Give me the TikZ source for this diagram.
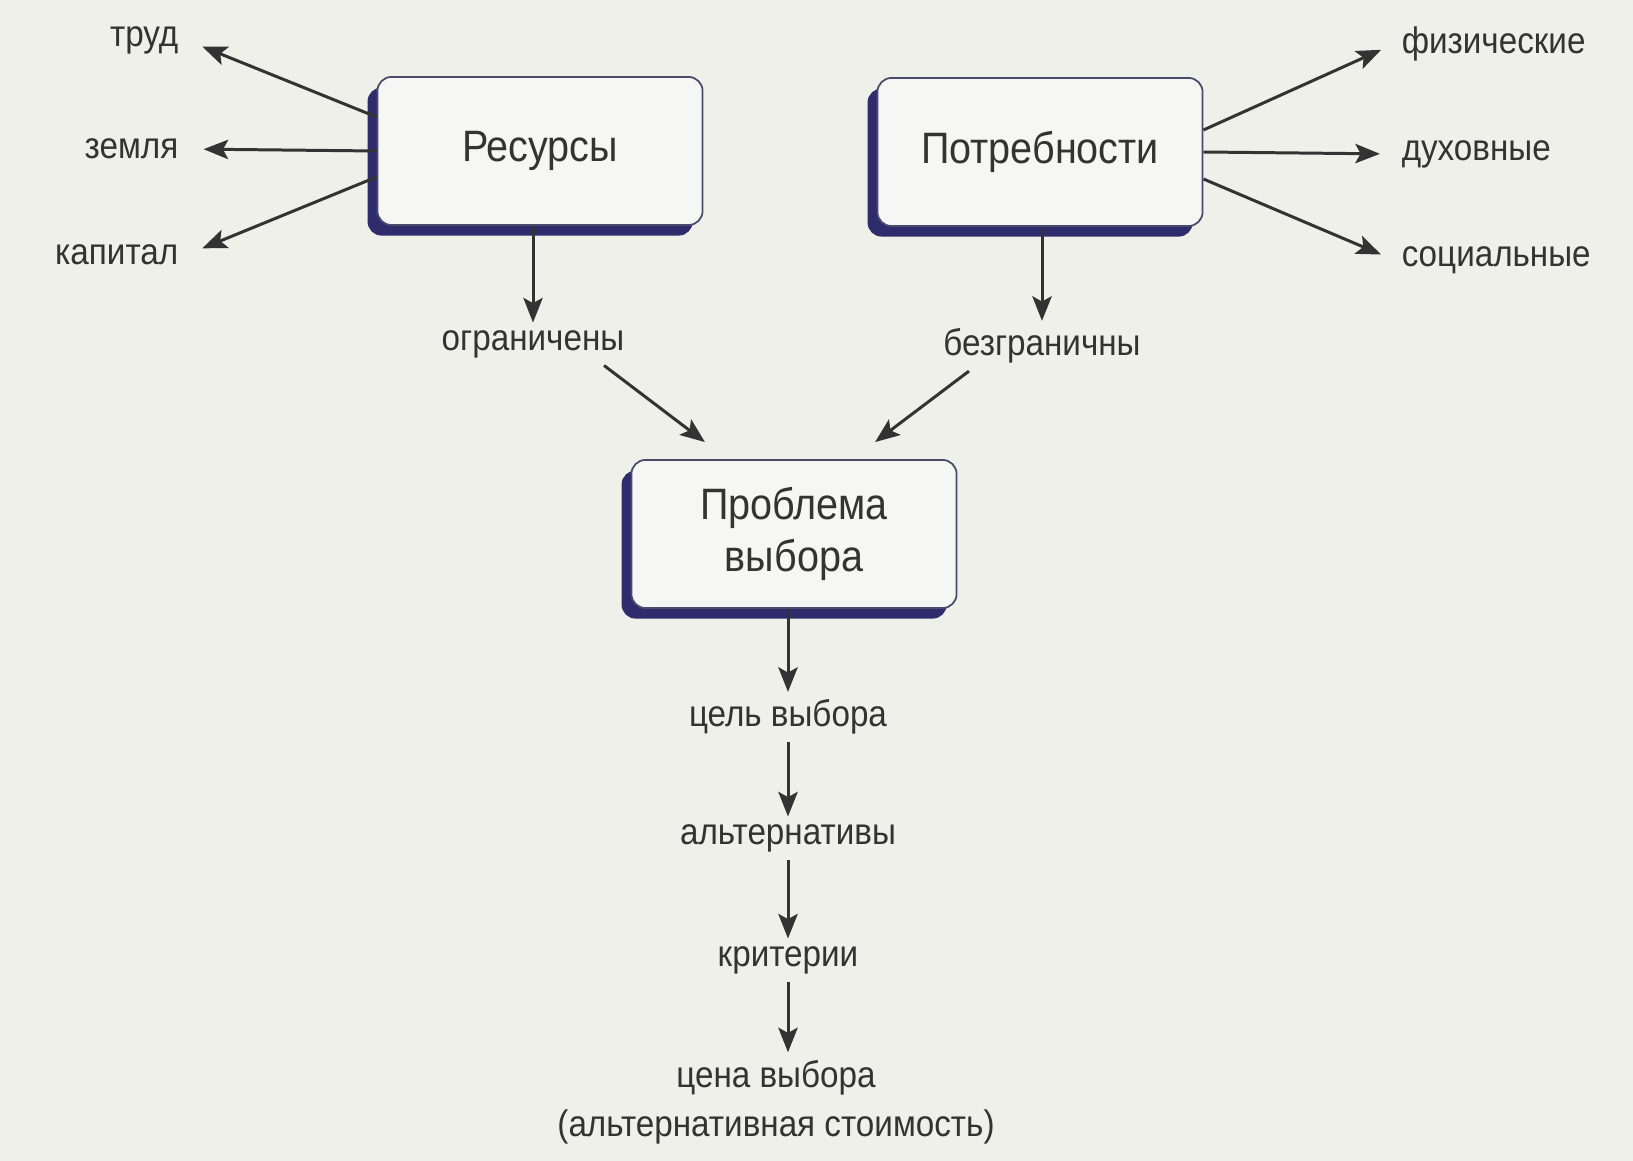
\documentclass[tikz,border=0pt]{standalone}
\usepackage{fontspec}
\setmainfont{Liberation Sans}[FakeStretch=0.9]
\usetikzlibrary{arrows.meta,shadows}

\definecolor{inkgrey}{HTML}{333333}
\definecolor{boxedge}{HTML}{4A4A6A}
\definecolor{shadownavy}{HTML}{2F2C6E}
\definecolor{boxfill}{HTML}{F6F7F4}
\definecolor{bgpaper}{HTML}{EEF0E9}

\begin{document}
\begin{tikzpicture}[x=0.01cm, y=-0.01cm,
    box/.style={draw=boxedge, line width=0.5pt, rounded corners=4pt, fill=boxfill,
        minimum width=3.25cm, minimum height=1.48cm, align=center, text=inkgrey,
        font=\fontsize{12.5}{14.7}\selectfont,
        drop shadow={shadow xshift=-2.8pt, shadow yshift=-3pt, fill=shadownavy, opacity=1}},
    lbl/.style={font=\fontsize{10.5}{14}\selectfont, text=inkgrey, inner sep=2pt, align=center},
    arr/.style={-{Stealth[length=7pt,width=5.5pt,inset=1.5pt]}, line width=0.85pt, draw=inkgrey}]

        % -- page -----------------------------------------------------------------
        \path[use as bounding box, fill=bgpaper] (0,0) rectangle (1633,1161);

        % -- main boxes -----------------------------------------------------------
        \node[box] (res)    at (540,151) {Ресурсы};
        \node[box] (need)   at (1040,152) {Потребности};
        \node[box] (choice) at (794,534) {Проблема\\выбора};

        % -- kinds of resources (left) --------------------------------------------
        \foreach \name/\txt/\y in {trud/труд/40, zemlya/земля/149, kapital/капитал/255} {
            \node[lbl, anchor=east] (\name) at (186,\y) {\txt};
        }

        % -- kinds of needs (right) -----------------------------------------------
        \foreach \name/\txt/\y in {fiz/физические/44, dukh/духовные/154, soc/социальные/260} {
            \node[lbl, anchor=west] (\name) at (1394,\y) {\txt};
        }

        % -- properties and steps of the choice -----------------------------------
        \node[lbl] (ogr)   at (533,344)  {ограничены};
        \node[lbl] (bezgr) at (1042,346) {безграничны};
        \node[lbl] (goal)  at (788,717)  {цель выбора};
        \node[lbl] (alt)   at (788,838)  {альтернативы};
        \node[lbl] (crit)  at (788,960)  {критерии};
        \node[lbl] (price) at (776,1102) {цена выбора\\(альтернативная стоимость)};

        % -- arrows out of the boxes ----------------------------------------------
        \draw[arr, shorten >=5pt] ([yshift=0.34cm]res.west)  -- (trud.east);
        \draw[arr, shorten >=5pt] (res.west)                 -- (zemlya.east);
        \draw[arr, shorten >=5pt] ([yshift=-0.26cm]res.west) -- (kapital.east);

        \draw[arr, shorten >=4pt] ([yshift=0.22cm]need.east)  -- (fiz.west);
        \draw[arr, shorten >=4pt] (need.east)                 -- (dukh.west);
        \draw[arr, shorten >=4pt] ([yshift=-0.27cm]need.east) -- (soc.west);

        \draw[arr] (res.south -| ogr.north)    -- (ogr.north);
        \draw[arr] (need.south -| bezgr.north) -- (bezgr.north);

        % -- into the problem box -------------------------------------------------
        \draw[arr] ([xshift=0.71cm]ogr.south)    -- ([xshift=-0.89cm,yshift=0.17cm]choice.north);
        \draw[arr] ([xshift=-0.73cm]bezgr.south) -- ([xshift=0.81cm,yshift=0.17cm]choice.north);

        % -- chain below ----------------------------------------------------------
        \draw[arr] (choice.south -| goal.north) -- (goal.north);
        \draw[arr] (goal.south) -- (alt.north);
        \draw[arr] (alt.south)  -- (crit.north);
        \draw[arr] (crit.south) -- (crit.south |- price.north);
    \end{tikzpicture}
\end{document}
